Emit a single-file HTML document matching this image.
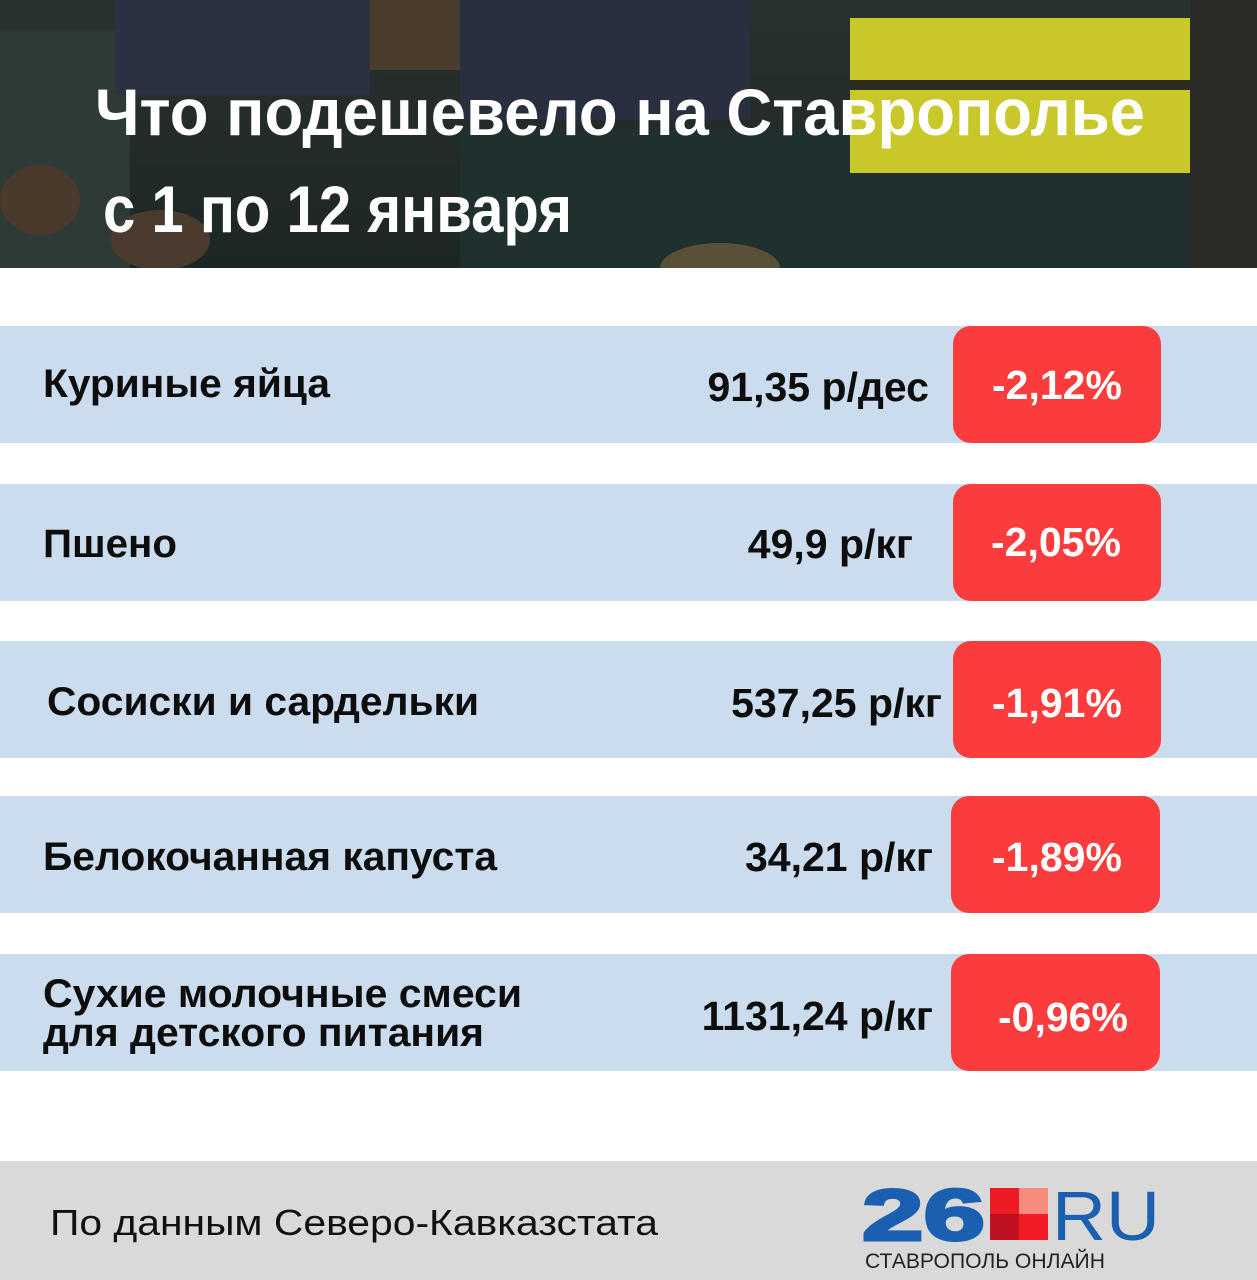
<!DOCTYPE html>
<html><head><meta charset="utf-8"><style>
html,body{margin:0;padding:0;background:#fff}
svg{display:block}
text{font-family:"Liberation Sans",sans-serif}
</style></head><body>
<svg width="1257" height="1280" viewBox="0 0 1257 1280" xmlns="http://www.w3.org/2000/svg">
<defs>
<linearGradient id="hg" x1="0" y1="0" x2="0" y2="1">
<stop offset="0" stop-color="#2a3230"/><stop offset="1" stop-color="#1c2624"/>
</linearGradient>
<clipPath id="hc"><rect x="0" y="0" width="1257" height="268"/></clipPath>
</defs>
<g clip-path="url(#hc)">
<rect x="0" y="0" width="1257" height="268" fill="url(#hg)"/>
<rect x="0" y="30" width="130" height="238" fill="#2e3a36"/>
<ellipse cx="40" cy="200" rx="40" ry="35" fill="#4a3a2c"/>
<ellipse cx="160" cy="240" rx="50" ry="30" fill="#4a3b2e"/>
<rect x="115" y="0" width="255" height="95" fill="#2a3140"/>
<rect x="460" y="0" width="290" height="120" fill="#283040"/>
<rect x="370" y="0" width="90" height="70" fill="#4b3d2e"/>
<rect x="460" y="130" width="800" height="138" fill="#1f302e"/>
<rect x="850" y="18" width="340" height="155" fill="#c8c82a"/>
<rect x="850" y="80" width="340" height="10" fill="#2b2b20"/>
<rect x="1190" y="0" width="67" height="268" fill="#2a2b26"/>
<ellipse cx="720" cy="268" rx="60" ry="25" fill="#5a5038"/>
</g>
<text x="95" y="135" font-size="66" font-weight="bold" fill="#fff" textLength="1050" lengthAdjust="spacingAndGlyphs">Что подешевело на Ставрополье</text>
<text x="103" y="232" font-size="66" font-weight="bold" fill="#fff" textLength="469" lengthAdjust="spacingAndGlyphs">с 1 по 12 января</text>

<g fill="#cbdcee">
<rect x="0" y="326" width="1257" height="117"/>
<rect x="0" y="484" width="1257" height="117"/>
<rect x="0" y="641" width="1257" height="117"/>
<rect x="0" y="796" width="1257" height="117"/>
<rect x="0" y="954" width="1257" height="117"/>
</g>
<g fill="#fb3c3c">
<rect x="953" y="326" width="208" height="117" rx="18"/>
<rect x="953" y="484" width="208" height="117" rx="18"/>
<rect x="953" y="641" width="208" height="117" rx="18"/>
<rect x="951" y="796" width="209" height="117" rx="18"/>
<rect x="951" y="954" width="209" height="117" rx="18"/>
</g>
<g font-size="40" font-weight="bold" fill="#0d0d0d">
<text x="43" y="397" textLength="287" lengthAdjust="spacingAndGlyphs">Куриные яйца</text>
<text x="43" y="557" textLength="134" lengthAdjust="spacingAndGlyphs">Пшено</text>
<text x="47" y="715" textLength="432" lengthAdjust="spacingAndGlyphs">Сосиски и сардельки</text>
<text x="43" y="870" textLength="454" lengthAdjust="spacingAndGlyphs">Белокочанная капуста</text>
<text x="43" y="1007" textLength="479" lengthAdjust="spacingAndGlyphs">Сухие молочные смеси</text>
<text x="43" y="1046" textLength="441" lengthAdjust="spacingAndGlyphs">для детского питания</text>
</g>
<g font-size="41" font-weight="bold" fill="#0d0d0d" text-anchor="end">
<text x="929" y="401">91,35 р/дес</text>
<text x="913" y="558">49,9 р/кг</text>
<text x="942" y="717">537,25 р/кг</text>
<text x="933" y="871">34,21 р/кг</text>
<text x="933" y="1030">1131,24 р/кг</text>
</g>
<g font-size="41" font-weight="bold" fill="#fff" text-anchor="middle">
<text x="1057" y="399">-2,12%</text>
<text x="1056" y="556">-2,05%</text>
<text x="1057" y="717">-1,91%</text>
<text x="1057" y="871">-1,89%</text>
<text x="1063" y="1031">-0,96%</text>
</g>

<rect x="0" y="1161" width="1257" height="119" fill="#d9d9d9"/>
<text x="50" y="1235" font-size="36" fill="#111" textLength="608" lengthAdjust="spacingAndGlyphs">По данным Северо-Кавказстата</text>
<text x="862" y="1240" font-size="72" font-weight="bold" fill="#1a5fb0" textLength="123" lengthAdjust="spacingAndGlyphs" stroke="#1a5fb0" stroke-width="3">26</text>
<rect x="990" y="1188" width="29" height="26" fill="#ec1c24"/>
<rect x="1019" y="1188" width="29" height="26" fill="#f68c7c"/>
<rect x="990" y="1214" width="29" height="26" fill="#c0121e"/>
<rect x="1019" y="1214" width="29" height="26" fill="#f41c24"/>
<text x="1052" y="1240" font-size="70" fill="#1a5fb0" textLength="108" lengthAdjust="spacingAndGlyphs">RU</text>
<text x="865" y="1268" font-size="21" fill="#222" textLength="240" lengthAdjust="spacingAndGlyphs">СТАВРОПОЛЬ ОНЛАЙН</text>
</svg>
</body></html>
